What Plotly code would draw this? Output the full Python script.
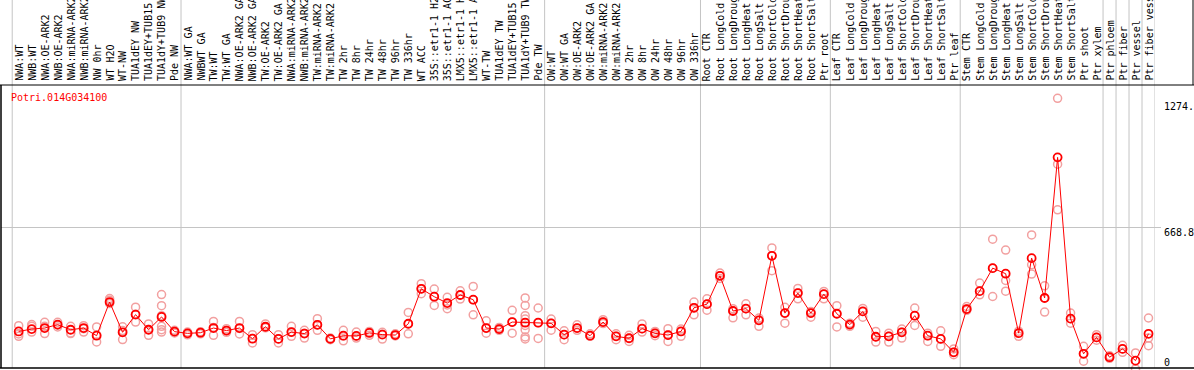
import plotly.graph_objects as go

categories = [
    "NWA:WT", "NWB:WT", "NWA:OE-ARK2", "NWB:OE-ARK2", "NWA:miRNA-ARK2", "NWB:miRNA-ARK2",
    "NW 0hr", "WT H2O", "WT-NW", "TUA1dEY NW", "TUA1dEY+TUB15 NW", "TUA1dY+TUB9 NW", "Pde NW",
    "NWA:WT GA", "NWBWT GA", "TW:WT", "TW:WT GA", "NWA:OE-ARK2 GA", "NWB:OE-ARK2 GA",
    "TW:OE-ARK2", "TW:OE-ARK2 GA", "NWA:miRNA-ARK2 GA", "NWB:miRNA-ARK2 GA", "TW:miRNA-ARK2",
    "TW:miRNA-ARK2 GA", "TW 2hr", "TW 8hr", "TW 24hr", "TW 48hr", "TW 96hr", "TW 336hr",
    "WT ACC", "35S::etr1-1 H2O", "35S::etr1-1 ACC", "LMX5::etr1-1 H2O", "LMX5::etr1-1 ACC",
    "WT-TW", "TUA1dEY TW", "TUA1dEY+TUB15 TW", "TUA1dY+TUB9 TW", "Pde TW",
    "OW:WT", "OW:WT GA", "OW:OE-ARK2", "OW:OE-ARK2 GA", "OW:miRNA-ARK2", "OW:miRNA-ARK2 GA",
    "OW 2hr", "OW 8hr", "OW 24hr", "OW 48hr", "OW 96hr", "OW 336hr",
    "Root CTR", "Root LongCold", "Root LongDrought", "Root LongHeat", "Root LongSalt",
    "Root ShortCold", "Root ShortDrought", "Root ShortHeat", "Root ShortSalt", "Ptr root",
    "Leaf CTR", "Leaf LongCold", "Leaf LongDrought", "Leaf LongHeat", "Leaf LongSalt",
    "Leaf ShortCold", "Leaf ShortDrought", "Leaf ShortHeat", "Leaf ShortSalt", "Ptr leaf",
    "Stem CTR", "Stem LongCold", "Stem LongDrought", "Stem LongHeat", "Stem LongSalt",
    "Stem ShortCold", "Stem ShortDrought", "Stem ShortHeat", "Stem ShortSalt", "Ptr shoot",
    "Ptr xylem", "Ptr phloem", "Ptr fiber", "Ptr vessel", "Ptr fiber vessel",
]

mean_values = [
    181, 192, 197, 213, 189, 197, 161, 319, 177, 260, 189, 249, 180,
    172, 175, 197, 185, 197, 147, 203, 146, 178, 171, 212, 146, 161, 160, 174, 166, 164, 217,
    381, 344, 314, 352, 330, 197, 192, 225, 222, 222,
    219, 166, 197, 161, 225, 158, 149, 194, 172, 164, 181, 292,
    309, 442, 277, 288, 233, 536, 267, 361, 267, 356,
    264, 213, 275, 156, 158, 177, 255, 161, 146, 83,
    286, 370, 478, 452, 173, 525, 338, 998, 241, 76, 153,
    60, 99, 44, 170,
]

replicate_values = [
    [208, 169, 158], [213, 205, 178], [224, 205, 171], [224, 210, 202], [205, 174, 171],
    [208, 194, 178], [202, 132, 165], [335, 327, 312], [203, 143, 185], [295, 225, 262],
    [216, 163, 190], [354, 302, 255, 205, 189, 178], [186, 174, 180],
    [178, 165, 172], [180, 170, 175], [228, 163, 200], [194, 177, 185], [228, 169, 195],
    [166, 127, 148], [216, 198, 203], [166, 127, 146], [205, 158, 178], [186, 150, 172],
    [241, 186, 212], [150, 142, 146], [186, 137, 160], [178, 150, 158], [181, 163, 176],
    [177, 145, 168], [170, 160, 164], [270, 170, 217], [405, 358, 381], [380, 303, 345],
    [341, 288, 305], [372, 333, 352], [392, 259, 330], [231, 173, 197], [200, 186, 192],
    [280, 173, 225], [338, 303, 255, 239, 209, 189, 155, 146], [291, 148, 222],
    [239, 187, 219], [184, 142, 166], [212, 186, 197], [170, 158, 161], [236, 218, 225],
    [170, 142, 158], [163, 134, 149], [216, 178, 194], [181, 161, 172], [194, 134, 164],
    [192, 158, 181], [319, 259, 292],
    [334, 281, 309], [455, 430, 442], [288, 245, 277], [311, 259, 288], [244, 205, 233],
    [573, 466, 536], [294, 220, 267], [383, 334, 361], [275, 248, 267], [369, 334, 356],
    [302, 202, 264], [205, 220, 213], [289, 248, 275], [181, 131, 156], [173, 131, 158],
    [192, 150, 177], [291, 209, 255], [173, 134, 161], [184, 111, 146], [99, 72, 83],
    [298, 280, 286], [408, 353, 370], [614, 345, 478], [563, 420, 370], [182, 158, 173],
    [634, 494, 450], [395, 272, 338], [1275, 966, 752], [267, 220, 241], [111, 41, 76],
    [166, 140, 153], [67, 55, 60], [116, 83, 99], [80, 5, 44], [244, 150, 114],
]

gene_id = "Potri.014G034100"
group_bounds = [-0.5, 12.5, 40.5, 52.5, 62.5, 72.5, 83.5, 84.5, 85.5, 86.5, 87.5]
y_ticks = [0, 668.8, 1274]
y_tick_text = ["0", "668.8", "1274."]
y_max = 1337.6

W, H = 1194, 370
ML, MR, MT, MB = 1, 39, 85, 0
PW = W - ML - MR
PH = H - MT - MB
FONT = "DejaVu Sans Mono"


def px_x(p):
    return (p - ML) / PW


def px_y(p):
    return (H - MB - p) / PH


rep_x, rep_y = [], []
for c, reps in zip(categories, replicate_values):
    for r in reps:
        rep_x.append(c)
        rep_y.append(r)

fig = go.Figure()
fig.add_trace(go.Scatter(
    x=rep_x, y=rep_y, mode="markers", cliponaxis=False,
    marker=dict(symbol="circle-open", size=8, color="#f2a0a0", line=dict(width=1.5, color="#f2a0a0")),
    hoverinfo="y", showlegend=False,
))
fig.add_trace(go.Scatter(
    x=categories, y=mean_values, mode="lines+markers", cliponaxis=False,
    line=dict(color="#ff0000", width=1),
    marker=dict(symbol="circle-open", size=8, color="#ff0000", line=dict(width=1.8, color="#ff0000")),
    showlegend=False,
))

shapes = []
for b in group_bounds:
    shapes.append(dict(type="line", xref="x", yref="paper", x0=b, x1=b,
                       y0=px_y(368), y1=px_y(0), line=dict(color="#c4c4c4", width=1), layer="below"))
shapes.append(dict(type="line", xref="paper", yref="y", x0=px_x(1), x1=px_x(1161),
                   y0=y_ticks[1], y1=y_ticks[1], line=dict(color="#c4c4c4", width=1), layer="below"))
# borders
shapes.append(dict(type="line", xref="paper", yref="paper", x0=px_x(0), x1=px_x(W),
                   y0=px_y(85), y1=px_y(85), line=dict(color="black", width=1)))
shapes.append(dict(type="line", xref="paper", yref="paper", x0=px_x(0), x1=px_x(W),
                   y0=px_y(368), y1=px_y(368), line=dict(color="black", width=1.5)))
shapes.append(dict(type="line", xref="paper", yref="paper", x0=px_x(1), x1=px_x(1),
                   y0=px_y(368), y1=px_y(85), line=dict(color="black", width=1.5)))
shapes.append(dict(type="line", xref="paper", yref="paper", x0=px_x(1193), x1=px_x(1193),
                   y0=px_y(85), y1=px_y(0), line=dict(color="black", width=1)))

annotations = []
for c in categories:
    annotations.append(dict(x=c, xref="x", y=1, yref="paper", text=c, textangle=-90,
                            showarrow=False, xanchor="center", yanchor="bottom", yshift=2,
                            font=dict(family=FONT, size=10, color="black")))
annotations.append(dict(x=px_x(9), xref="paper", y=px_y(97), yref="paper", text=gene_id,
                        showarrow=False, xanchor="left", yanchor="middle",
                        font=dict(family=FONT, size=10, color="#ff0000")))
shifts = [8, -5, -8]
for v, t, s in zip(y_ticks, y_tick_text, shifts):
    annotations.append(dict(x=px_x(1162), xref="paper", y=v, yref="y", text=t,
                            showarrow=False, xanchor="left", yanchor="middle", yshift=s,
                            font=dict(family=FONT, size=10, color="black")))

fig.update_layout(
    width=W, height=H,
    margin=dict(l=ML, r=MR, t=MT, b=MB),
    paper_bgcolor="white", plot_bgcolor="white",
    xaxis=dict(type="category", range=[-1.363, 87.5], showgrid=False, zeroline=False,
               showticklabels=False, showline=False, ticks=""),
    yaxis=dict(range=[0, y_max], showgrid=False, zeroline=False, showticklabels=False,
               showline=False, ticks=""),
    shapes=shapes, annotations=annotations,
    font=dict(family=FONT, size=10),
)

fig.write_html(
    "out.html",
    config={"displayModeBar": False},
    post_script="document.body.style.margin='0';document.body.style.overflow='hidden';",
)
